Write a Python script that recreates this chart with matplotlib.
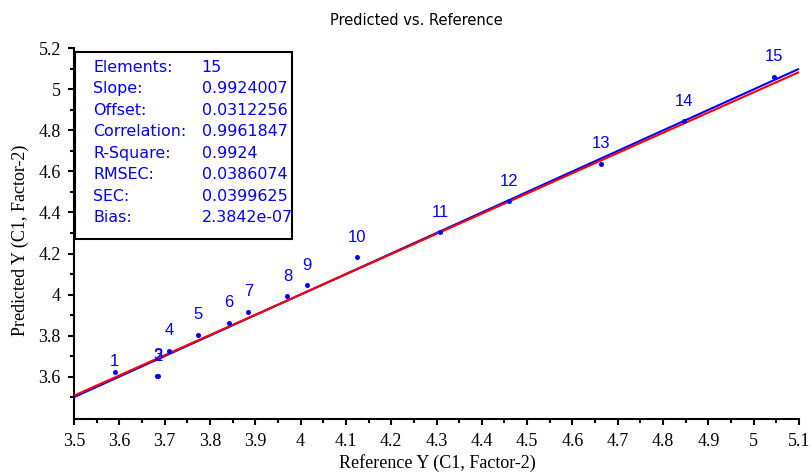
import matplotlib
matplotlib.use("Agg")
import matplotlib.pyplot as plt
import numpy as np
from matplotlib.ticker import MultipleLocator, FuncFormatter
from matplotlib.patches import Rectangle

# ---- data ----
sample_ids = ["1", "2", "3", "4", "5", "6", "7", "8", "9", "10", "11", "12", "13", "14", "15"]
reference_y = [3.590, 3.684, 3.685, 3.710, 3.774, 3.841, 3.885, 3.971, 4.015, 4.125,
               4.308, 4.461, 4.663, 4.847, 5.044]
predicted_y = [3.621, 3.601, 3.604, 3.727, 3.803, 3.862, 3.917, 3.992, 4.045, 4.182,
               4.304, 4.455, 4.637, 4.844, 5.060]
target_slope, target_offset = 1.0, 0.0
fit_slope, fit_offset = 0.9855, 0.058
stat_names = ["Elements:", "Slope:", "Offset:", "Correlation:", "R-Square:",
              "RMSEC:", "SEC:", "Bias:"]
stat_values = ["15", "0.9924007", "0.0312256", "0.9961847", "0.9924",
               "0.0386074", "0.0399625", "2.3842e-07"]
title = "Predicted vs. Reference"
xlabel = "Reference Y (C1, Factor-2)"
ylabel = "Predicted Y (C1, Factor-2)"

W, H = 810, 474
fig = plt.figure(figsize=(W / 100, H / 100), dpi=100)
ax = fig.add_axes([74 / W, 1 - 418.7 / H, 725 / W, (418.7 - 48.3) / H])

x_lo, x_hi = 3.5, 5.1
ax.set_xlim(x_lo, x_hi)
ax.set_ylim(3.395, 5.2)

xs = np.array([x_lo, x_hi])
ax.plot(xs, target_slope * xs + target_offset, color="#0000ff", lw=1.5, zorder=2,
        solid_capstyle="butt", clip_on=False)
ax.plot(xs, fit_slope * xs + fit_offset, color="#ff0000", lw=1.5, zorder=3,
        solid_capstyle="butt", clip_on=False)
ax.plot(reference_y, predicted_y, "o", color="#0000ff", ms=3.6, mec="none", zorder=4)
for sid, xv, yv in zip(sample_ids, reference_y, predicted_y):
    dy = 7.5 if sid == "1" else 14.5
    ax.annotate(sid, (xv, yv), xytext=(0, dy), textcoords="offset points",
                ha="center", va="center", color="#0000ff", fontsize=12,
                family="Liberation Sans", zorder=5)

for s in ["top", "right"]:
    ax.spines[s].set_visible(False)
for s in ["left", "bottom"]:
    ax.spines[s].set_linewidth(1.5)

ax.xaxis.set_major_locator(MultipleLocator(0.1))
ax.xaxis.set_minor_locator(MultipleLocator(0.05))
ax.yaxis.set_major_locator(plt.FixedLocator(np.arange(3.6, 5.21, 0.2)))
ax.yaxis.set_minor_locator(plt.FixedLocator(np.arange(3.5, 5.2, 0.2)))
fmt = FuncFormatter(lambda v, p: f"{round(v, 3):g}")
ax.xaxis.set_major_formatter(fmt)
ax.yaxis.set_major_formatter(fmt)
ax.tick_params(which="major", length=4.5, width=1.5, direction="out")
ax.tick_params(which="minor", length=2.8, width=1.5, direction="out")
ax.tick_params(axis="x", which="major", pad=6)
ax.tick_params(axis="y", which="major", pad=5)
for lab in ax.get_xticklabels() + ax.get_yticklabels():
    lab.set_family("Liberation Serif")
    lab.set_fontsize(13)

fig.text(416 / W, 1 - 20.5 / H, title, ha="center", va="center", fontsize=10.5,
         family="DejaVu Sans")
fig.text(437 / W, 1 - 463 / H, xlabel, ha="center", va="center", fontsize=13,
         family="Liberation Serif")
fig.text(20 / W, 1 - 240 / H, ylabel, ha="center", va="center", fontsize=13,
         family="Liberation Serif", rotation=90)

# statistics box
bx0, by0, bx1, by1 = 75, 52, 291.7, 239
fig.patches.append(Rectangle((bx0 / W, 1 - by1 / H), (bx1 - bx0) / W, (by1 - by0) / H,
                             transform=fig.transFigure, fill=True, facecolor="white",
                             edgecolor="black", lw=1.5, zorder=10))
for i, (n, v) in enumerate(zip(stat_names, stat_values)):
    yy = 1 - (67.3 + i * 21.5) / H
    fig.text(93.3 / W, yy, n, ha="left", va="center", fontsize=11.4, color="#0000ff",
             family="DejaVu Sans", zorder=11)
    fig.text(201.7 / W, yy, v, ha="left", va="center", fontsize=11.4, color="#0000ff",
             family="DejaVu Sans", zorder=11)

fig.savefig("out.png", dpi=100)
